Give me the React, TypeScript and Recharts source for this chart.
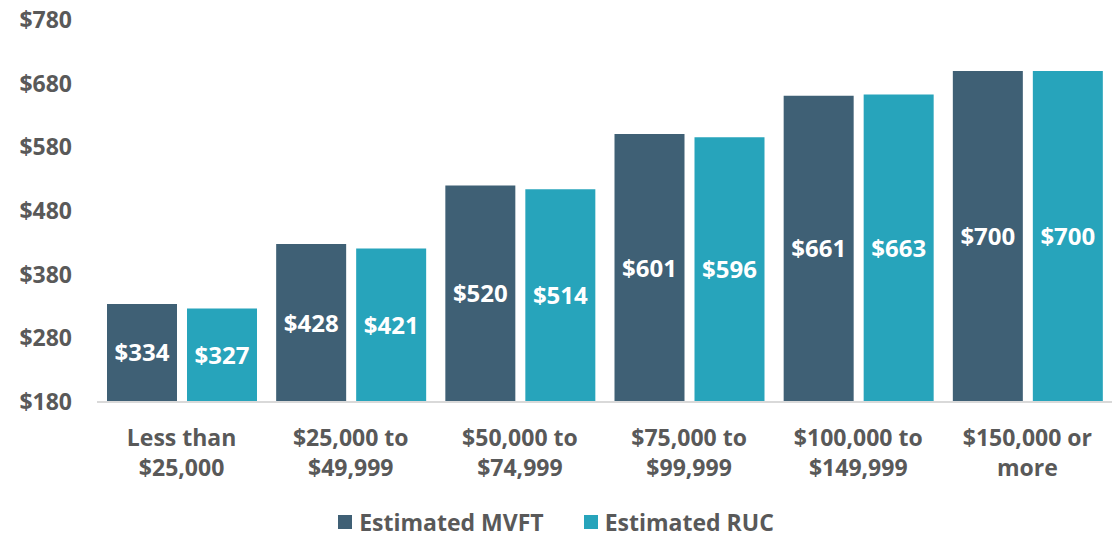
import { BarChart, Bar, XAxis, YAxis, Legend, LabelList } from 'recharts';

const categories = [
  'Less than\n$25,000',
  '$25,000 to\n$49,999',
  '$50,000 to\n$74,999',
  '$75,000 to\n$99,999',
  '$100,000 to\n$149,999',
  '$150,000 or\nmore',
];
const mvftValues = [334, 428, 520, 601, 661, 700];
const rucValues = [327, 421, 514, 596, 663, 700];
const yTicks = [180, 280, 380, 480, 580, 680, 780];

const seriesNames = { mvft: 'Estimated MVFT', ruc: 'Estimated RUC' };
const DARK = '#3F6075';
const TEAL = '#27A4BB';
const GREY = '#595959';
const FONT = '"Open Sans", Lato, sans-serif';

const data = categories.map((c, i) => ({
  category: c,
  mvft: mvftValues[i],
  ruc: rucValues[i],
}));

const CategoryTick = (props: any) => {
  const { x, y, payload } = props;
  const lines = String(payload.value).split('\n');
  return (
    <text x={x} y={y} textAnchor="middle" fill={GREY} fontFamily={FONT} fontWeight={700} fontSize={23}>
      {lines.map((l, i) => (
        <tspan key={i} x={x} dy={i === 0 ? 36 : 30}>
          {l}
        </tspan>
      ))}
    </text>
  );
};

const LegendContent = () => {
  const items = [
    { name: seriesNames.mvft, color: DARK },
    { name: seriesNames.ruc, color: TEAL },
  ];
  return (
    <div style={{ display: 'flex', justifyContent: 'center', gap: 40, fontFamily: FONT }}>
      {items.map((it) => (
        <div key={it.name} style={{ display: 'flex', alignItems: 'center' }}>
          <span style={{ width: 14, height: 14, background: it.color, display: 'inline-block', marginRight: 7 }} />
          <span style={{ color: GREY, fontWeight: 700, fontSize: 23 }}>{it.name}</span>
        </div>
      ))}
    </div>
  );
};

const money = (v: any) => `$${v}`;

export default function App() {
  return (
    <div style={{ position: 'absolute', left: 0, top: 0, background: '#fff' }}>
      <BarChart
        width={1112}
        height={538}
        data={data}
        margin={{ top: 20, right: 0, bottom: 0, left: 0 }}
        barSize={70}
        barGap={10}
      >
        <XAxis
          dataKey="category"
          tick={<CategoryTick />}
          tickLine={false}
          axisLine={{ stroke: '#D9D9D9', strokeWidth: 2 }}
          interval={0}
          height={104}
        />
        <YAxis
          domain={[180, 780]}
          ticks={yTicks}
          tickFormatter={money}
          axisLine={false}
          tickLine={false}
          width={97}
          tickMargin={19}
          tick={{ fill: GREY, fontFamily: FONT, fontWeight: 700, fontSize: 23 }}
        />
        <Legend verticalAlign="bottom" content={<LegendContent />} wrapperStyle={{ bottom: 0 }} />
        <Bar dataKey="mvft" name={seriesNames.mvft} fill={DARK} isAnimationActive={false}>
          <LabelList dataKey="mvft" position="center" formatter={money} fill="#fff" fontFamily={FONT} fontWeight={700} fontSize={24} />
        </Bar>
        <Bar dataKey="ruc" name={seriesNames.ruc} fill={TEAL} isAnimationActive={false}>
          <LabelList dataKey="ruc" position="center" formatter={money} fill="#fff" fontFamily={FONT} fontWeight={700} fontSize={24} />
        </Bar>
      </BarChart>
    </div>
  );
}
